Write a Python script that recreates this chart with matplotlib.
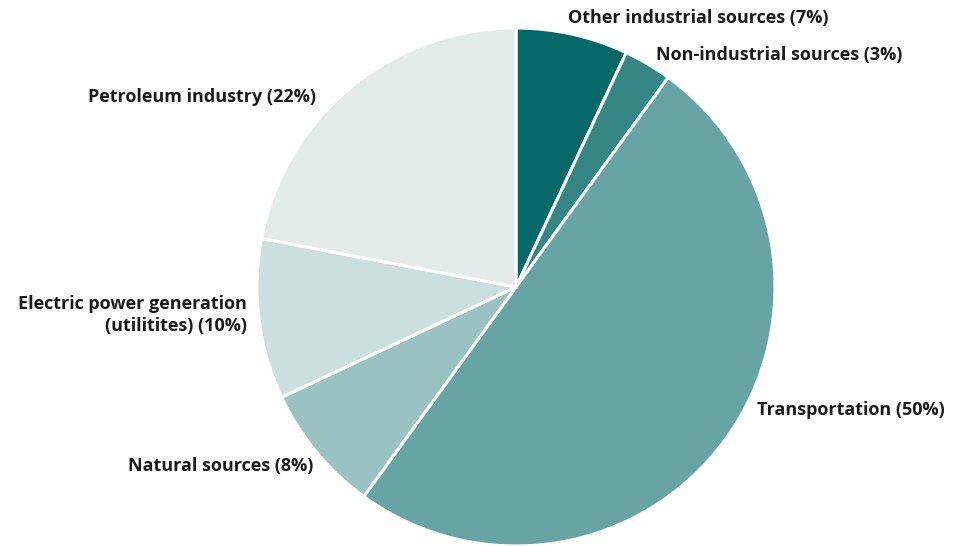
import matplotlib.pyplot as plt

# emission shares by source, clockwise from 12 o'clock
sources = ['Other industrial sources', 'Non-industrial sources', 'Transportation',
           'Natural sources', 'Electric power generation\n(utilitites)', 'Petroleum industry']
shares = [7, 3, 50, 8, 10, 22]
colors = ['#036866', '#358785', '#66a5a3', '#9ac2c1', '#cbdfde', '#e2ebea']

plt.rcParams['font.family'] = ['Open Sans', 'DejaVu Sans']

W, H = 954, 546
fig = plt.figure(figsize=(W / 100, H / 100), dpi=100)
ax = fig.add_axes([0, 0, 1, 1])

ax.pie(shares, colors=colors, startangle=90, counterclock=False,
       center=(516, 259), radius=259, frame=True,
       wedgeprops=dict(edgecolor='white', linewidth=2.2))
ax.set_xlim(0, W)
ax.set_ylim(0, H)
ax.set_aspect('equal')
ax.axis('off')

# label anchor points (x, y, horizontal alignment)
label_pos = [(568, 528, 'left'), (656, 491, 'left'), (757, 136, 'left'),
             (313, 80, 'right'), (247, 231, 'right'), (316, 449, 'right')]

for name, val, (x, y, ha) in zip(sources, shares, label_pos):
    ax.text(x, y, f'{name} ({val}%)', ha=ha, va='center', multialignment='right',
            fontsize=13, fontweight='bold', color='#1a1a1a', linespacing=1.3)

fig.savefig('out.png', dpi=100)
